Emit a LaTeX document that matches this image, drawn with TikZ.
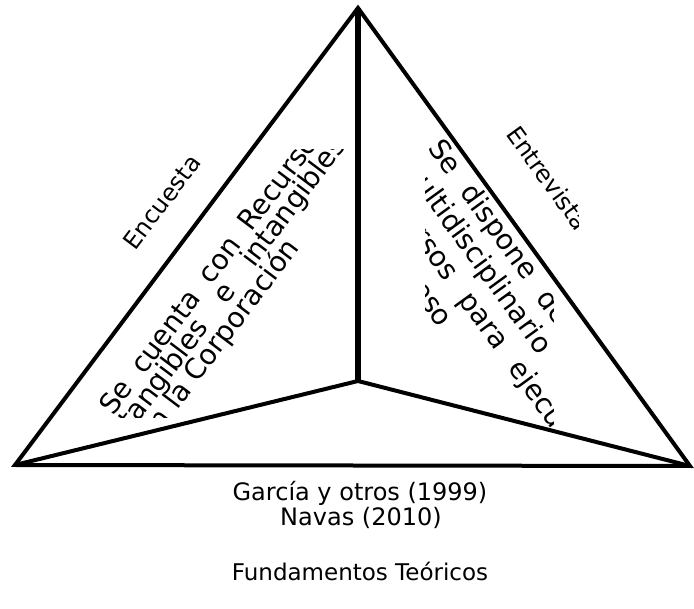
\documentclass[tikz,border=0pt]{standalone}
\usepackage{fontspec}
\setmainfont{DejaVu Sans}
\begin{document}
\begin{tikzpicture}[x=1pt,y=-1pt,
  edge/.style={line width=4pt, line join=miter},
  spine/.style={line width=6.5pt},
  lbl/.style={font=\fontsize{24}{26}\selectfont, inner sep=0pt},
  facetext/.style={font=\fontsize{28}{28}\selectfont, inner sep=0pt, anchor=base west}]
\useasboundingbox (0,0) rectangle (694,609);

% corners of the pyramid and its inner vertex
\coordinate (A) at (358,8);
\coordinate (L) at (15,465);
\coordinate (R) at (690,466);
\coordinate (C) at (358,381);

% outline and inner edges
\draw[edge] (A) -- (L) -- (R) -- cycle;
\draw[edge] (L) -- (C) -- (R);
\draw[spine] (A) -- (C);

% left face text
\begin{scope}
  \clip (60,150) rectangle (345,418);
  \node[facetext, rotate=53] (l1) at (113,417) {\makebox[357pt][s]{Se cuenta con Recursos}};
  \node[facetext, rotate=53] (l2) at (132,431) {\makebox[357pt][s]{tangibles e intangibles}};
  \node[facetext, rotate=53] (l3) at (151,446) {en la Corporación};
\end{scope}

% right face text
\begin{scope}
  \clip (425,137) rectangle (553,428);
  \node[facetext, rotate=-54] (r1) at (427,148) {\makebox[228pt][s]{Se dispone del}};
  \node[facetext, rotate=-54] (r2) at (397.5,162) {multidisciplinario};
  \node[facetext, rotate=-54] (r3) at (375,186) {\makebox[341pt][s]{recursos para ejecutar}};
  \node[facetext, rotate=-54] (r4) at (354,212) {el proceso};
\end{scope}

% edge labels
\node[lbl, rotate=53] (enc) at (162,202) {Encuesta};
\begin{scope}
  \clip (470,127) rectangle (578,240);
  \node[lbl, rotate=-54] (ent) at (548,178) {Entrevista};
\end{scope}

% captions under the base
\node[lbl] (cit1) at (360,493) {García y otros (1999)};
\node[lbl] (cit2) at (361,518) {Navas (2010)};
\node[lbl, font=\fontsize{23}{26}\selectfont] (fund) at (360,571) {Fundamentos Teóricos};
\end{tikzpicture}
\end{document}
